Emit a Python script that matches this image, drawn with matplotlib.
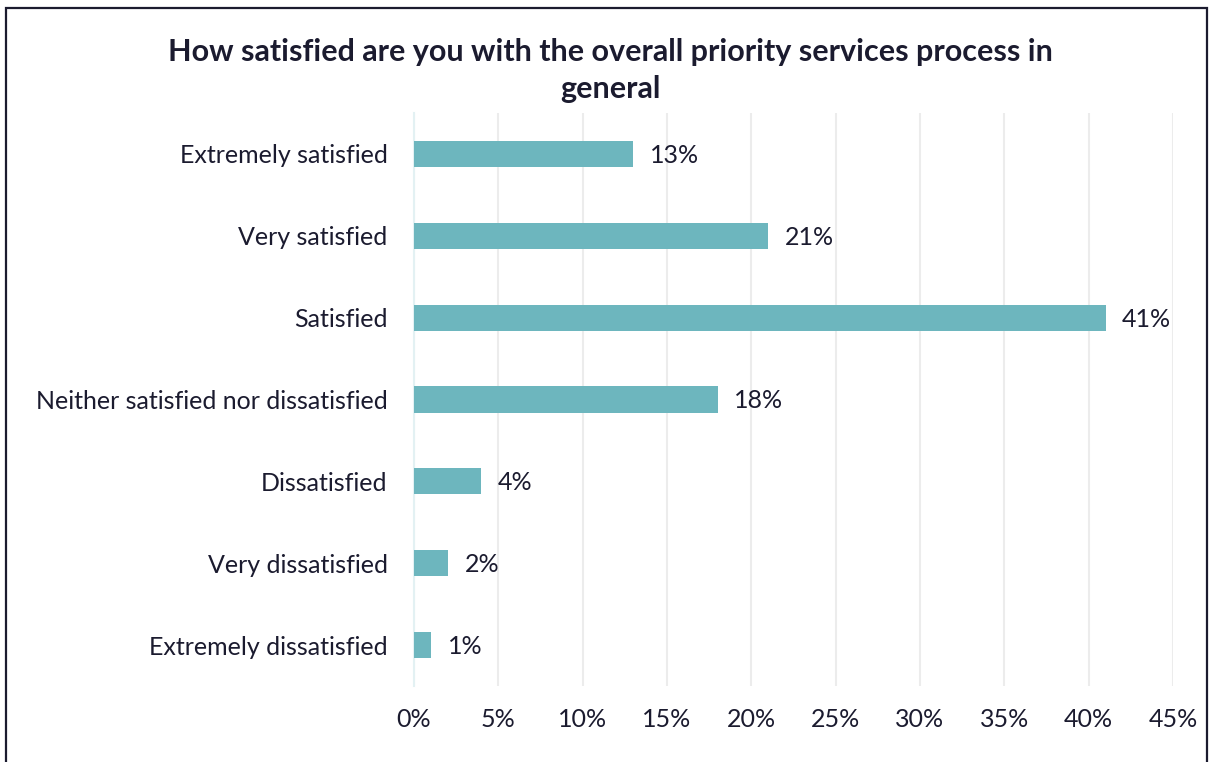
import matplotlib.pyplot as plt
from matplotlib.patches import Rectangle

categories = [
    "Extremely satisfied",
    "Very satisfied",
    "Satisfied",
    "Neither satisfied nor dissatisfied",
    "Dissatisfied",
    "Very dissatisfied",
    "Extremely dissatisfied",
]
shares = [13, 21, 41, 18, 4, 2, 1]
x_ticks = [0, 5, 10, 15, 20, 25, 30, 35, 40, 45]

title = "How satisfied are you with the overall priority services process in\ngeneral"

ink = "#1b1b2f"
teal = "#6db6be"

plt.rcParams["font.family"] = ["Lato", "DejaVu Sans"]

fig = plt.figure(figsize=(12.13, 7.62), dpi=100)
ax = fig.add_axes([0.3413, 0.0997, 0.6257, 0.752])

ypos = list(range(len(categories)))
ax.barh(ypos, shares, height=0.32, color=teal, zorder=3)
for y, v in zip(ypos, shares):
    ax.annotate(f"{v}%", (v, y), xytext=(12, -1), textcoords="offset points",
                va="center", ha="left", fontsize=18, color=ink)

ax.set_ylim(len(categories) - 0.5, -0.5)
ax.set_yticks(ypos)
ax.set_yticklabels(categories)
ax.set_xlim(0, 45)
ax.set_xticks(x_ticks)
ax.set_xticklabels([f"{t}%" for t in x_ticks])
ax.tick_params(axis="both", length=0, labelsize=18, labelcolor=ink)
ax.tick_params(axis="x", pad=16)
ax.tick_params(axis="y", pad=19)

ax.grid(axis="x", color="#ececec", linewidth=1.5, zorder=0)
for s in ["top", "right", "bottom"]:
    ax.spines[s].set_visible(False)
ax.spines["left"].set_color("#e3f1f3")
ax.spines["left"].set_linewidth(1.5)

fig.text(0.503, 0.907, title, ha="center", va="center", fontsize=22,
         fontweight="bold", color=ink, linespacing=1.4)

# outer frame of the chart
fig.patches.append(Rectangle((0.005, -0.05), 0.99, 1.04, transform=fig.transFigure,
                             fill=False, edgecolor=ink, linewidth=1.6))

fig.savefig("out.png", dpi=100)
